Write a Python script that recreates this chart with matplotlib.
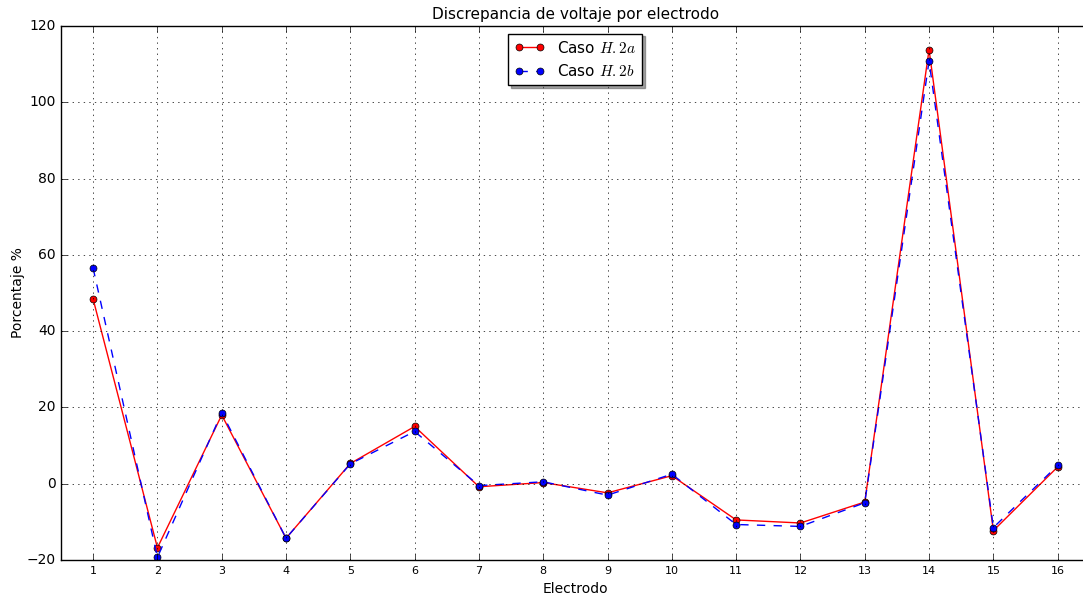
import matplotlib
matplotlib.use('Agg')
import matplotlib.pyplot as plt
import numpy as np

plt.style.use('classic')

electrodos = list(range(1, 17))
caso_a = [48.4, -16.8, 18.0, -14.3, 5.3, 15.0, -0.8, 0.3, -2.4, 2.1, -9.5, -10.3, -4.8, 113.8, -12.3, 4.4]
caso_b = [56.5, -19.3, 18.6, -14.3, 5.2, 13.7, -0.5, 0.5, -3.0, 2.5, -10.7, -11.2, -5.0, 110.8, -11.5, 4.8]

fig = plt.figure(figsize=(10.83, 5.97), dpi=100, facecolor='white')
ax = fig.add_axes([0.0563, 0.062, 0.95, 0.8945])

ax.plot(electrodos, caso_a, 'r-o', markersize=5, label=r'Caso $H.2a$')
ax.plot(electrodos, caso_b, 'b--o', markersize=5, label=r'Caso $H.2b$')

ax.set_xlim(0.5, 16.5)
ax.set_ylim(-20, 120)
ax.set_xticks(electrodos)
ax.set_yticks(np.arange(-20, 121, 20))
ax.tick_params(axis='x', labelsize=8)
ax.tick_params(axis='y', labelsize=10)
ax.grid(True)

ax.set_title('Discrepancia de voltaje por electrodo', fontsize=11)
ax.set_xlabel('Electrodo', fontsize=10)
ax.set_ylabel('Porcentaje %', fontsize=10, labelpad=1)
ax.legend(loc='upper center', shadow=True, fontsize=11, numpoints=2)

fig.savefig('out.png', dpi=100, facecolor='white')
